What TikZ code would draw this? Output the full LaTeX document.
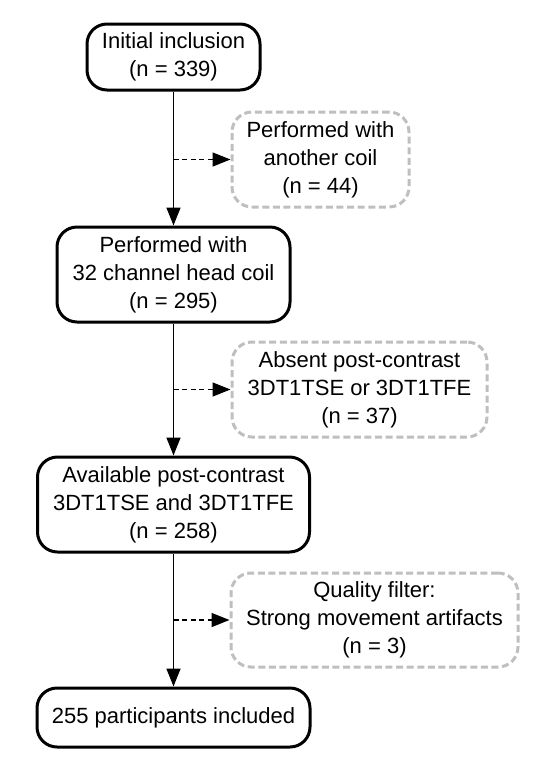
\documentclass[tikz,border=0pt]{standalone}
\usepackage{fontspec}
\setmainfont{Liberation Sans}
\usetikzlibrary{arrows.meta}
\tikzset{
	mainbox/.style={draw=black, line width=1.5pt, rounded corners=10pt, align=center, inner sep=0pt, font=\fontsize{11}{14}\selectfont},
	sidebox/.style={draw=black!25, line width=1.5pt, dash pattern=on 3.5pt off 1.8pt, rounded corners=10pt, align=center, inner sep=0pt, font=\fontsize{11}{14}\selectfont},
	flowarrow/.style={line width=0.75pt, -{Triangle[length=9pt, width=7pt]}},
	sidearrow/.style={line width=0.75pt, dash pattern=on 2.5pt off 1.8pt, -{Triangle[length=9pt, width=7pt]}}
}

\begin{document}
\begin{tikzpicture}[x=0.5pt, y=-0.5pt]
		%%%%% START %%%%%
		\useasboundingbox (0, 0) rectangle (552, 767);
		
		\node[mainbox, minimum width=86.5pt, minimum height=33pt] (incl) at (173.5, 57) {Initial inclusion\\(n = 339)};
		\node[mainbox, minimum width=116.5pt, minimum height=47.5pt] (headcoil) at (173.5, 274.5) {Performed with\\32 channel head coil\\(n = 295)};
		\node[mainbox, minimum width=136pt, minimum height=47.5pt] (avail) at (173.5, 504.5) {Available post-contrast\\3DT1TSE and 3DT1TFE\\(n = 258)};
		\node[mainbox, minimum width=136.5pt, minimum height=29.5pt] (final) at (173.5, 717.5) {255 participants included};
		
		\node[sidebox, minimum width=88.5pt, minimum height=47.5pt] (othercoil) at (320.5, 159.5) {Performed with\\another coil\\(n = 44)};
		\node[sidebox, minimum width=127.5pt, minimum height=47.5pt] (absent) at (359.5, 389.5) {Absent post-contrast\\3DT1TSE or 3DT1TFE\\(n = 37)};
		\node[sidebox, minimum width=143.5pt, minimum height=47pt] (quality) at (374.5, 620) {Quality filter:\\Strong movement artifacts\\(n = 3)};
		
		\draw[flowarrow] (incl.south) -- (headcoil.north);
		\draw[flowarrow] (headcoil.south) -- (avail.north);
		\draw[flowarrow] (avail.south) -- (final.north);
		
		\draw[sidearrow] (incl.south |- othercoil.west) -- (othercoil.west);
		\draw[sidearrow] (headcoil.south |- absent.west) -- (absent.west);
		\draw[sidearrow] (avail.south |- quality.west) -- (quality.west);
		
		%%%%% END %%%%%
	\end{tikzpicture}
\end{document}
